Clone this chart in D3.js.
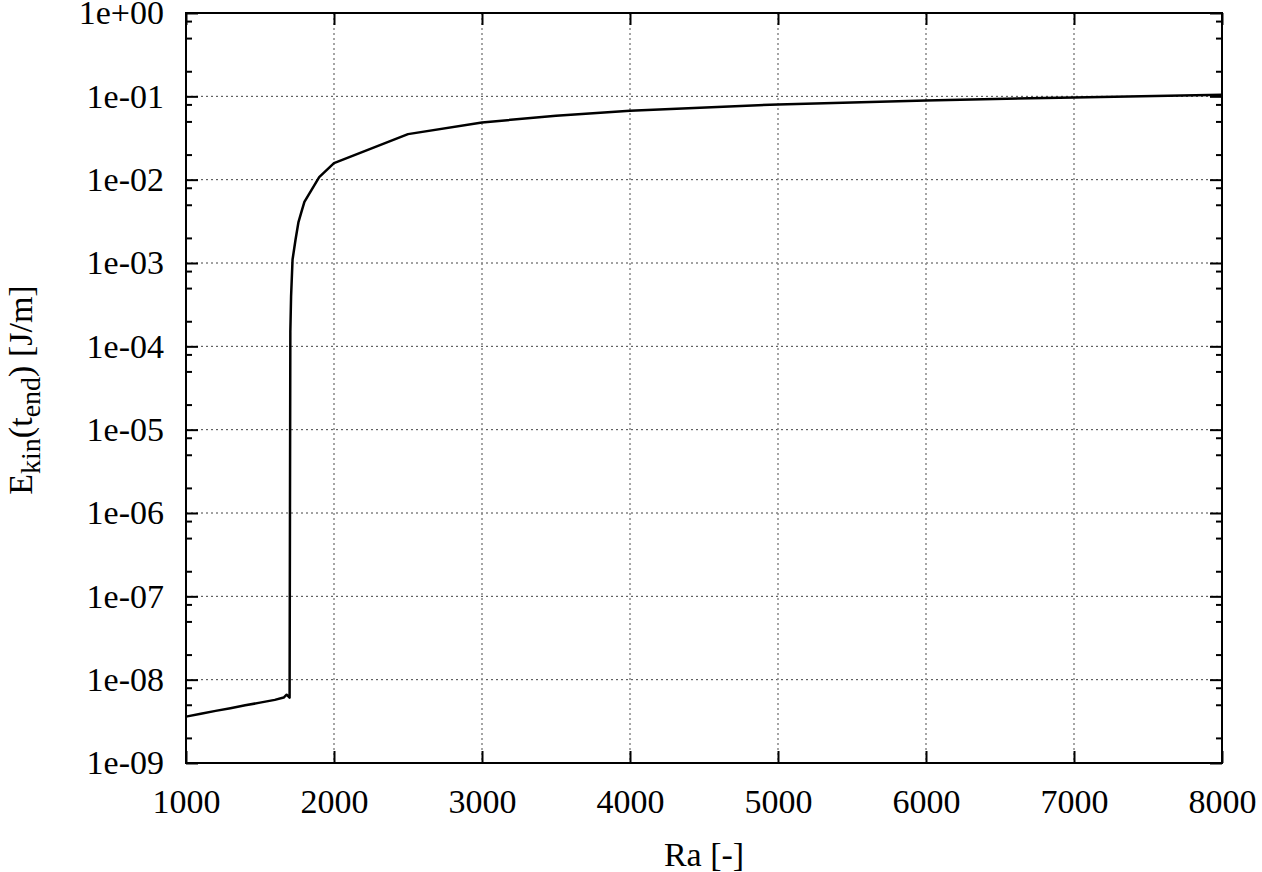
<!DOCTYPE html>
<html>
<head>
<meta charset="utf-8">
<script src="https://cdn.jsdelivr.net/npm/d3@7"></script>
<style>
  body { margin: 0; background: #fff; }
</style>
</head>
<body>
<svg id="ekin-chart" width="1262" height="872"></svg>
<script>
// Ra values and kinetic energy at t_end
const raValues = [1000, 1100, 1200, 1300, 1400, 1500, 1600, 1660, 1680, 1700,
  1705, 1710, 1720, 1740, 1760, 1780, 1800, 1900, 2000, 2500,
  3000, 3500, 4000, 5000, 6000, 7000, 8000];
const ekinValues = [3.6e-9, 3.9e-9, 4.22e-9, 4.55e-9, 4.92e-9, 5.3e-9, 5.72e-9, 6.1e-9, 6.6e-9, 6.1e-9,
  1.5e-4, 4.0e-4, 1.1e-3, 1.9e-3, 3.1e-3, 4.1e-3, 5.4e-3, 1.07e-2, 1.58e-2, 3.52e-2,
  4.86e-2, 5.85e-2, 6.71e-2, 8.0e-2, 8.93e-2, 9.7e-2, 1.045e-1];

const xTicks = [1000, 2000, 3000, 4000, 5000, 6000, 7000, 8000];
const yTicks = [1e-9, 1e-8, 1e-7, 1e-6, 1e-5, 1e-4, 1e-3, 1e-2, 1e-1, 1e0];
const yMinorMult = [2, 5, 8];

const xLabel = 'Ra [-]';

const FONT = '"Liberation Serif", "Times New Roman", Times, serif';

const svg = d3.select('svg#ekin-chart');
const plotL = 186, plotR = 1222, plotT = 13, plotB = 763;

const x = d3.scaleLinear().domain([1000, 8000]).range([plotL, plotR]);
const y = d3.scaleLog().domain([1e-9, 1]).range([plotB, plotT]);

const fmtExp = (v) => {
  const e = Math.round(Math.log10(v));
  return '1e' + (e < 0 ? '-' : '+') + String(Math.abs(e)).padStart(2, '0');
};

const yMinor = [];
yTicks.slice(0, -1).forEach(t => yMinorMult.forEach(m => yMinor.push(t * m)));

// grid
const grid = svg.append('g');
grid.selectAll('.hgrid')
  .data(yTicks.slice(1, -1))
  .enter().append('line')
  .attr('x1', plotL).attr('x2', plotR)
  .attr('y1', d => y(d)).attr('y2', d => y(d))
  .attr('stroke', '#444').attr('stroke-width', 1)
  .attr('stroke-dasharray', '2,3');
grid.selectAll('.vgrid')
  .data(xTicks.slice(1, -1))
  .enter().append('line')
  .attr('x1', d => x(d)).attr('x2', d => x(d))
  .attr('y1', plotT).attr('y2', plotB)
  .attr('stroke', '#888').attr('stroke-width', 1.5)
  .attr('stroke-dasharray', '2,3');

const styleAxis = (g) => {
  g.attr('font-family', null).attr('font-size', null);
  g.select('.domain').remove();
  g.selectAll('.tick line').attr('stroke', '#000').attr('stroke-width', 2);
  g.selectAll('.tick text')
    .style('font-family', FONT)
    .style('font-size', '34px')
    .attr('fill', '#000');
};

// bottom + top
svg.append('g').attr('transform', `translate(0,${plotB})`)
  .call(d3.axisBottom(x).tickValues(xTicks).tickSize(-12).tickPadding(26).tickFormat(d3.format('d')))
  .call(styleAxis);
svg.append('g').attr('transform', `translate(0,${plotT})`)
  .call(d3.axisTop(x).tickValues(xTicks).tickSize(-12).tickFormat(''))
  .call(styleAxis);

// left + right
svg.append('g').attr('transform', `translate(${plotL},0)`)
  .call(d3.axisLeft(y).tickValues(yTicks).tickSize(-12).tickPadding(22).tickFormat(fmtExp))
  .call(styleAxis);
svg.append('g').attr('transform', `translate(${plotR},0)`)
  .call(d3.axisRight(y).tickValues(yTicks).tickSize(-12).tickFormat(''))
  .call(styleAxis);
svg.append('g').attr('transform', `translate(${plotL},0)`)
  .call(d3.axisLeft(y).tickValues(yMinor).tickSize(-6).tickFormat(''))
  .call(styleAxis);
svg.append('g').attr('transform', `translate(${plotR},0)`)
  .call(d3.axisRight(y).tickValues(yMinor).tickSize(-6).tickFormat(''))
  .call(styleAxis);

// curve
const line = d3.line()
  .x((d, i) => x(raValues[i]))
  .y((d) => y(d));
svg.append('path')
  .datum(ekinValues)
  .attr('d', line)
  .attr('fill', 'none')
  .attr('stroke', '#000')
  .attr('stroke-width', 2.5)
  .attr('stroke-linejoin', 'round');

// frame
svg.append('rect')
  .attr('x', plotL).attr('y', plotT)
  .attr('width', plotR - plotL).attr('height', plotB - plotT)
  .attr('fill', 'none').attr('stroke', '#000').attr('stroke-width', 2);

// axis labels
svg.append('text')
  .attr('x', (plotL + plotR) / 2).attr('y', 866)
  .attr('text-anchor', 'middle')
  .style('font-family', FONT)
  .style('font-size', '34px')
  .text(xLabel);

const yl = svg.append('text')
  .attr('transform', 'translate(32,390) rotate(-90)')
  .attr('text-anchor', 'middle')
  .style('font-family', FONT)
  .style('font-size', '34px');
yl.append('tspan').text('E');
yl.append('tspan').attr('dy', 8).style('font-size', '28px').text('kin');
yl.append('tspan').attr('dy', -8).text('(t');
yl.append('tspan').attr('dy', 8).style('font-size', '28px').text('end');
yl.append('tspan').attr('dy', -8).text(') [J/m]');
</script>
</body>
</html>
